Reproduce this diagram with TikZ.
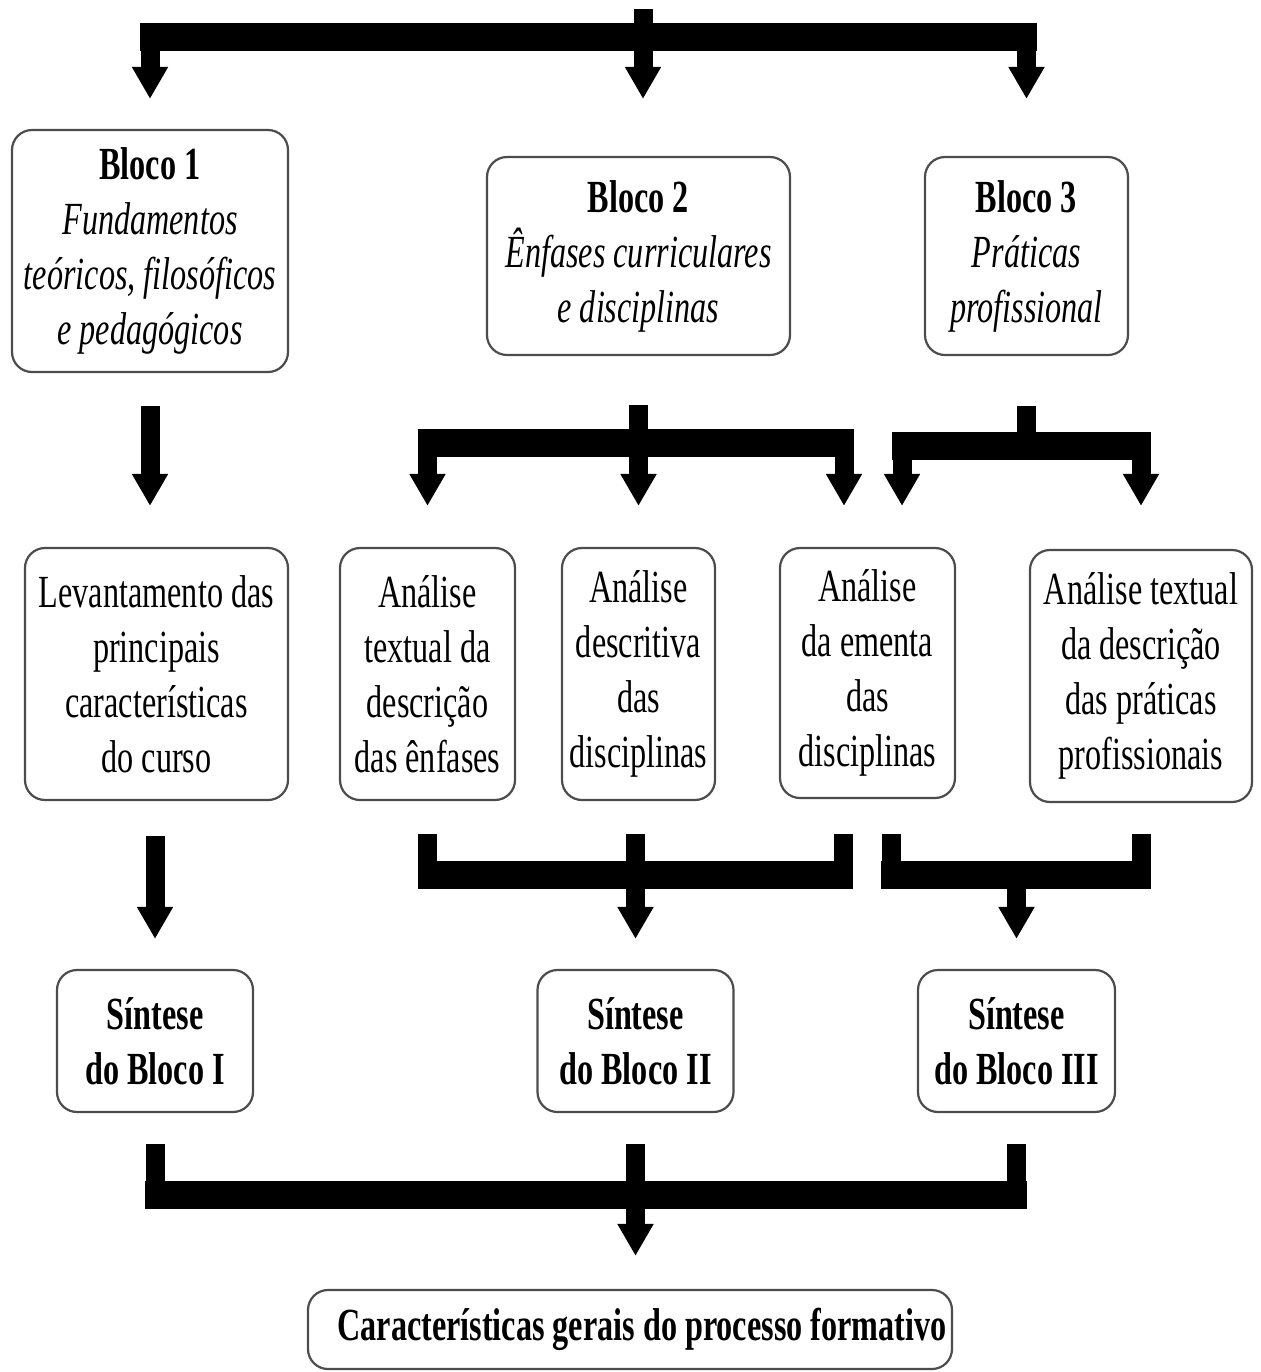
\documentclass[tikz,border=0pt]{standalone}
\usepackage{fontspec}
\setmainfont{Liberation Serif}[FakeStretch=0.7]
\usetikzlibrary{arrows.meta,calc}

\tikzset{
  caixa/.style={draw=black!70, line width=1.1pt, rounded corners=10pt,
    align=center, inner sep=0pt, font=\fontsize{23}{27.5}\selectfont},
  haste/.style={line width=9.5pt},
  barra/.style={line width=14pt},
  seta/.style={haste, -{Triangle[width=17pt,length=16pt]}},
}

\begin{document}
\begin{tikzpicture}[x=0.5pt,y=-0.5pt]
\useasboundingbox (0,0) rectangle (1261,1372);

% blocos
\node[caixa, minimum width=138pt, minimum height=121pt] (b1) at (150,251)
  {\textbf{Bloco 1}\\\textit{Fundamentos}\\\textit{teóricos, filosóficos}\\\textit{e pedagógicos}};
\node[caixa, minimum width=151.5pt, minimum height=99pt] (b2) at (638.5,256)
  {\textbf{Bloco 2}\\\textit{Ênfases curriculares}\\\textit{e disciplinas}};
\node[caixa, minimum width=101.5pt, minimum height=99pt] (b3) at (1026.5,256)
  {\textbf{Bloco 3}\\\textit{Práticas}\\\textit{profissional}};

% analises
\node[caixa, minimum width=131.5pt, minimum height=126pt] (lev) at (156.5,674)
  {Levantamento das\\principais\\características\\do curso};
\node[caixa, minimum width=87.5pt, minimum height=126pt] (ate) at (427.5,674)
  {Análise\\textual da\\descrição\\das ênfases};
\node[caixa, minimum width=76.5pt, minimum height=126pt] (add) at (638.5,674)
  {Análise\\descritiva\\das\\disciplinas};
\node[caixa, minimum width=87.5pt, minimum height=125pt] (aed) at (867.5,673)
  {Análise\\da ementa\\das\\disciplinas};
\node[caixa, minimum width=111pt, minimum height=126pt] (atp) at (1141,676)
  {Análise textual\\da descrição\\das práticas\\profissionais};

% sinteses
\node[caixa, minimum width=98pt, minimum height=71pt] (s1) at (155,1041)
  {\textbf{Síntese}\\\textbf{do Bloco I}};
\node[caixa, minimum width=98pt, minimum height=71pt] (s2) at (635.5,1041)
  {\textbf{Síntese}\\\textbf{do Bloco II}};
\node[caixa, minimum width=98.5pt, minimum height=71pt] (s3) at (1016.5,1041)
  {\textbf{Síntese}\\\textbf{do Bloco III}};
\node[caixa, minimum width=322pt, minimum height=39.5pt] (fin) at (630,1329.5)
  {\hspace{12pt}\textbf{Características gerais do processo formativo}};

% topo
\coordinate (entrada) at (643,9);
\coordinate (n1) at (643,37);
\draw[haste] (entrada) -- (n1);
\draw[barra] ($(b1.north |- n1)+(-10,0)$) -- ($(b3.north |- n1)+(10,0)$);
\draw[seta] (b1.north |- n1) -- ($(b1.north)+(0,-30)$);
\draw[seta] (n1) -- ($(n1 |- b2.north)+(0,-57)$);
\draw[seta] (b3.north |- n1) -- ($(b3.north)+(0,-57)$);

% bloco 1 -> levantamento
\draw[seta] ($(b1.south)+(0,33)$) -- ($(b1.south |- lev.north)+(0,-41)$);

% bloco 2 -> analises
\coordinate (n2) at ($(b2.south)+(0,87)$);
\coordinate (aedE) at ($(aed.north)+(-23.5,0)$);
\draw[haste] ($(b2.south)+(0,49)$) -- (n2);
\draw[barra] ($(ate.north |- n2)+(-10,0)$) -- ($(aedE |- n2)+(10,0)$);
\draw[seta] (ate.north |- n2) -- ($(ate.north)+(0,-41)$);
\draw[seta] (n2) -- ($(add.north)+(0,-41)$);
\draw[seta] (aedE |- n2) -- ($(aedE)+(0,-41)$);

% bloco 3 -> analises
\coordinate (n3) at ($(b3.south)+(0,90)$);
\coordinate (aedD) at ($(aed.north)+(34.5,0)$);
\draw[haste] ($(b3.south)+(0,50)$) -- (n3);
\draw[barra] ($(aedD |- n3)+(-10,0)$) -- ($(atp.north |- n3)+(10,0)$);
\draw[seta] (aedD |- n3) -- ($(aedD)+(0,-41)$);
\draw[seta] (atp.north |- n3) -- ($(atp.north)+(0,-43)$);

% levantamento -> sintese I
\draw[seta] ($(s1.north |- lev.south)+(0,35)$) -- ($(s1.north)+(0,-30)$);

% analises do bloco 2 -> sintese II
\coordinate (n4) at ($(s2.north)+(0,-94)$);
\coordinate (aedS) at ($(aed.south)+(-24.5,0)$);
\draw[haste] ($(ate.south)+(0,33)$) -- (ate.south |- n4);
\draw[haste] ($(s2.north |- add.south)+(0,33)$) -- (n4);
\draw[haste] ($(aedS)+(0,35)$) -- (aedS |- n4);
\draw[barra] ($(ate.south |- n4)+(-10,0)$) -- ($(aedS |- n4)+(10,0)$);
\draw[seta] (n4) -- ($(s2.north)+(0,-30)$);

% analises do bloco 3 -> sintese III
\coordinate (n5) at ($(s3.north)+(0,-94)$);
\coordinate (aedT) at ($(aed.south)+(23.5,0)$);
\draw[haste] ($(aedT)+(0,35)$) -- (aedT |- n5);
\draw[haste] ($(atp.south)+(0,31)$) -- (atp.south |- n5);
\draw[barra] ($(aedT |- n5)+(-10,0)$) -- ($(atp.south |- n5)+(10,0)$);
\draw[seta] (n5) -- ($(s3.north)+(0,-30)$);

% sinteses -> caracteristicas gerais
\coordinate (n6) at ($(s2.south)+(0,82)$);
\foreach \s in {s1,s2,s3}
  \draw[haste] ($(\s.south)+(0,31)$) -- (\s.south |- n6);
\draw[barra] ($(s1.south |- n6)+(-10,0)$) -- ($(s3.south |- n6)+(10,0)$);
\draw[seta] (n6) -- ($(n6 |- fin.north)+(0,-33)$);
\end{tikzpicture}
\end{document}
